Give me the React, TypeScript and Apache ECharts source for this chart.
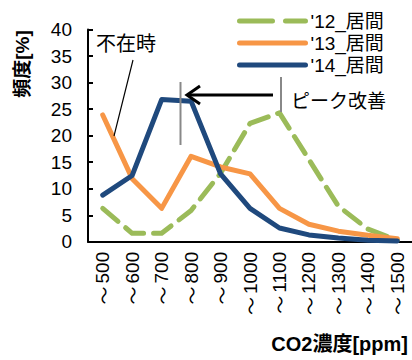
import React, { useEffect, useRef } from "react";
import * as echarts from "echarts";

const categories = ["〜500", "〜600", "〜700", "〜800", "〜900", "〜1000", "〜1100", "〜1200", "〜1300", "〜1400", "〜1500"];
const seriesNames = ["'12_居間", "'13_居間", "'14_居間"];
const values12 = [6.3, 1.6, 1.6, 5.9, 12.9, 22.3, 24.3, 15.5, 6.7, 2.4, 0.3];
const values13 = [23.9, 11.9, 6.3, 16.1, 14.1, 12.8, 6.3, 3.3, 2.0, 1.25, 0.6];
const values14 = [8.8, 12.5, 26.8, 26.5, 12.8, 6.3, 2.6, 1.3, 0.7, 0.3, 0.15];
const yTicks = { min: 0, max: 40, interval: 5 };
const colors = ["#9BBB59", "#F79646", "#1F497D"];

const FONT = "'Liberation Sans', Arial, 'Noto Sans CJK JP', sans-serif";
const CJK = "'Noto Sans CJK JP', sans-serif";

export default function App() {
  const ref = useRef<HTMLDivElement>(null);
  useEffect(() => {
    if (!ref.current) return;
    const chart = echarts.init(ref.current, null, { renderer: "svg" });
    const allValues = [values12, values13, values14];
    chart.setOption({
      animation: false,
      backgroundColor: "#ffffff",
      textStyle: { fontFamily: FONT },
      grid: { left: 88, top: 29.5, width: 327, height: 212.3, containLabel: false },
      legend: {
        orient: "vertical",
        left: 232,
        top: 6,
        itemWidth: 66,
        itemHeight: 14,
        itemGap: 2,
        itemStyle: { opacity: 0 },
        textStyle: { fontSize: 19, color: "#000", fontFamily: FONT, lineHeight: 20 },
        data: seriesNames.map((n, i) => ({
          name: n,
          lineStyle: i === 0 ? { type: [33, 13], width: 5, cap: "round" } : { width: 5, cap: "round" },
        })),
      },
      xAxis: {
        type: "category",
        data: categories,
        boundaryGap: true,
        axisLine: { lineStyle: { color: "#000", width: 2 } },
        axisTick: { inside: true, length: 5, lineStyle: { color: "#000", width: 2 } },
        axisLabel: {
          rotate: 90,
          fontSize: 19,
          color: "#000",
          margin: 10,
          interval: 0,
          fontFamily: FONT,
          formatter: (v: string) => "{t|" + v.slice(0, 1) + "}{d|" + v.slice(1) + "}",
          rich: {
            t: { fontFamily: CJK, fontSize: 18, color: "#000", padding: [0, 3, 0, 0] },
            d: { fontFamily: FONT, fontSize: 19, color: "#000" },
          },
        },
        splitLine: { show: false },
      },
      yAxis: {
        type: "value",
        min: yTicks.min,
        max: yTicks.max,
        interval: yTicks.interval,
        axisLine: { show: true, lineStyle: { color: "#000", width: 2 } },
        axisTick: { show: true, inside: true, length: 5, lineStyle: { color: "#000", width: 2 } },
        axisLabel: { fontSize: 19, color: "#000", margin: 16, fontFamily: FONT },
        splitLine: { show: false },
      },
      series: seriesNames.map((n, i) => ({
        name: n,
        type: "line",
        data: allValues[i],
        showSymbol: false,
        symbol: "none",
        color: colors[i],
        lineStyle: {
          color: colors[i],
          width: 5,
          type: i === 0 ? [20, 10] : "solid",
          cap: "round",
          join: "round",
        },
        z: 2 + i,
      })),
      graphic: [
        {
          type: "text",
          x: 22,
          y: 64,
          rotation: Math.PI / 2,
          style: {
            text: "頻度[%]",
            fontSize: 19,
            fontWeight: "bold",
            fontFamily: FONT,
            fill: "#000",
            align: "center",
            verticalAlign: "middle",
          },
        },
        {
          type: "text",
          x: 408,
          y: 344,
          style: {
            text: "CO2濃度[ppm]",
            fontSize: 20,
            fontWeight: "bold",
            fontFamily: FONT,
            fill: "#000",
            align: "right",
            verticalAlign: "middle",
          },
        },
        {
          type: "text",
          x: 96,
          y: 44,
          style: { text: "不在時", fontSize: 20, fontFamily: FONT, fill: "#000", align: "left", verticalAlign: "middle" },
        },
        {
          type: "line",
          shape: { x1: 133, y1: 60, x2: 114, y2: 136 },
          style: { stroke: "#000", lineWidth: 1.2 },
          z: 10,
        },
        {
          type: "line",
          shape: { x1: 180.5, y1: 82, x2: 180.5, y2: 145 },
          style: { stroke: "#888", lineWidth: 2 },
          z: 10,
        },
        {
          type: "line",
          shape: { x1: 281, y1: 77, x2: 281, y2: 112 },
          style: { stroke: "#888", lineWidth: 2 },
          z: 10,
        },
        {
          type: "line",
          shape: { x1: 273, y1: 95, x2: 188, y2: 95 },
          style: { stroke: "#000", lineWidth: 3 },
          z: 10,
        },
        {
          type: "polyline",
          shape: { points: [[200, 86], [187, 95], [200, 104]] },
          style: { stroke: "#000", lineWidth: 3, fill: null },
          z: 10,
        },
        {
          type: "text",
          x: 291,
          y: 101,
          style: { text: "ピーク改善", fontSize: 19, fontFamily: FONT, fill: "#000", align: "left", verticalAlign: "middle" },
        },
      ],
    });
    return () => chart.dispose();
  }, []);
  return <div ref={ref} style={{ position: "fixed", left: 0, top: 0, width: 412, height: 360 }} />;
}
